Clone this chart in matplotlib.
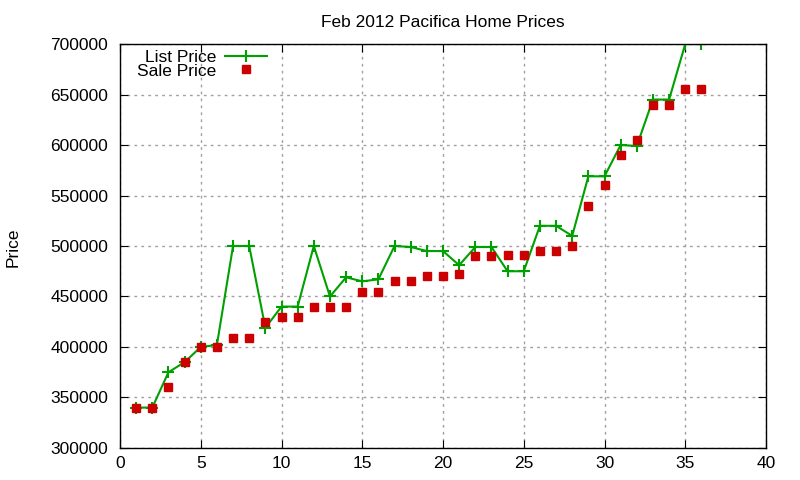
import matplotlib
matplotlib.use('Agg')
import matplotlib.pyplot as plt
from matplotlib.ticker import MultipleLocator, FuncFormatter

plt.rcParams['font.family'] = ['Liberation Sans', 'DejaVu Sans']

# data
homes = list(range(1, 37))
list_price = [340000, 340000, 375000, 385000, 400000, 402000, 500000, 500000, 419000, 440000,
              440000, 500000, 450000, 469000, 465000, 467000, 500000, 499000, 495000, 495000,
              481000, 499000, 499000, 475000, 475000, 520000, 520000, 510000, 569000, 569000,
              600000, 599000, 645000, 645000, 700000, 700000]
sale_price = [340000, 340000, 360000, 385000, 400000, 400000, 409000, 409000, 425000, 430000,
              430000, 440000, 440000, 440000, 454000, 454000, 465000, 465000, 470000, 470000,
              472000, 490000, 490000, 491000, 491000, 495000, 495000, 500000, 540000, 560000,
              590000, 605000, 640000, 640000, 655000, 655000]

fs = 12.5

fig = plt.figure(figsize=(8, 4.8), dpi=100)
ax = fig.add_axes([0.15, 0.0667, 0.8075, 0.8416])

ax.plot(homes, list_price, color='#00a000', lw=1.5, marker='+', ms=9, mew=1.5,
        label='List Price')
ax.plot(homes, sale_price, ls='none', color='#cc0000', marker='s', ms=6.3,
        label='Sale Price')

ax.set_xlim(0, 40)
ax.set_ylim(300000, 700000)
ax.xaxis.set_major_locator(MultipleLocator(5))
ax.yaxis.set_major_locator(MultipleLocator(50000))
ax.yaxis.set_major_formatter(FuncFormatter(lambda v, p: '%d' % v))
ax.tick_params(direction='in', top=True, right=True, length=6, labelsize=fs)
ax.tick_params(axis='y', pad=8.5)
ax.tick_params(axis='x', pad=6)
ax.grid(True, ls=(0, (2, 3)), color='#a0a0a0', lw=1)
for s in ax.spines.values():
    s.set_linewidth(1)

ax.set_title('Feb 2012 Pacifica Home Prices', fontsize=fs, pad=12)
fig.text(0.016, 0.485, 'Price', rotation=90, fontsize=fs, va='center', ha='center')

leg = ax.legend(loc='upper right', bbox_to_anchor=(267 / 800, 1 - 50 / 480),
                bbox_transform=fig.transFigure, frameon=False,
                markerfirst=False, fontsize=fs, handlelength=2.4, labelspacing=-0.1,
                handletextpad=0.5, borderaxespad=0, borderpad=0)

fig.savefig('out.png', dpi=100)
